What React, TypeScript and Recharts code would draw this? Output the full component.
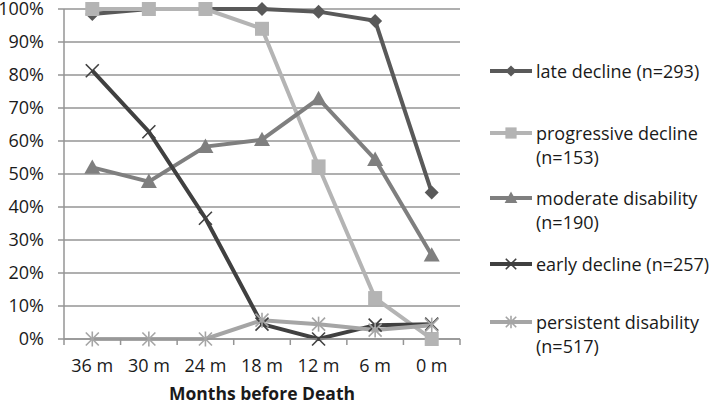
import { LineChart, Line, XAxis, YAxis, CartesianGrid, Legend } from 'recharts'

const months = ['36 m', '30 m', '24 m', '18 m', '12 m', '6 m', '0 m']
const lateDecline = [98.5, 100, 100, 100, 99.2, 96.4, 44.4]
const progressiveDecline = [100, 100, 100, 94, 52.3, 12.4, 0]
const moderateDisability = [52, 47.7, 58.3, 60.4, 72.8, 54.4, 25.4]
const earlyDecline = [81.3, 62.8, 36.6, 4.5, 0, 4.2, 4.5]
const persistentDisability = [0, 0, 0, 5.7, 4.5, 2.7, 4.2]
const percentTicks = [0, 10, 20, 30, 40, 50, 60, 70, 80, 90, 100]

const data = months.map((m, i) => ({
  month: m,
  late: lateDecline[i],
  progressive: progressiveDecline[i],
  moderate: moderateDisability[i],
  early: earlyDecline[i],
  persistent: persistentDisability[i]
}))

type Marker = 'diamond' | 'square' | 'triangle' | 'x' | 'star'

const series: { key: string; name: string; color: string; marker: Marker }[] = [
  { key: 'late', name: 'late decline (n=293)', color: '#595959', marker: 'diamond' },
  { key: 'progressive', name: 'progressive decline\n(n=153)', color: '#b4b4b4', marker: 'square' },
  { key: 'moderate', name: 'moderate disability\n(n=190)', color: '#7f7f7f', marker: 'triangle' },
  { key: 'early', name: 'early decline (n=257)', color: '#404040', marker: 'x' },
  { key: 'persistent', name: 'persistent disability\n(n=517)', color: '#a5a5a5', marker: 'star' }
]

const legendTops = [71, 133, 198, 264, 322]

const W = 713
const H = 404
const left = 64
const right = 460
const band = (right - left) / months.length
const font = '"Open Sans", Lato, sans-serif'
const gridColor = '#959595'

function MarkerShape({ type, cx, cy, color, s = 1 }: { type: Marker; cx: number; cy: number; color: string; s?: number }) {
  if (cx == null || cy == null) return null
  if (type === 'diamond') {
    const r = 7 * s
    return <polygon points={`${cx},${cy - r} ${cx + r},${cy} ${cx},${cy + r} ${cx - r},${cy}`} fill={color} />
  }
  if (type === 'square') {
    const r = 7 * s
    return <rect x={cx - r} y={cy - r} width={r * 2} height={r * 2} fill={color} />
  }
  if (type === 'triangle') {
    const r = 8 * s
    return <polygon points={`${cx},${cy - r} ${cx + r},${cy + r * 0.8} ${cx - r},${cy + r * 0.8}`} fill={color} />
  }
  const r = 6.5 * s
  return (
    <g stroke={color} strokeWidth={1.6}>
      <line x1={cx - r} y1={cy - r} x2={cx + r} y2={cy + r} />
      <line x1={cx - r} y1={cy + r} x2={cx + r} y2={cy - r} />
      {type === 'star' && <line x1={cx} y1={cy - r - 1} x2={cx} y2={cy + r + 1} />}
    </g>
  )
}

function XTick(props: any) {
  const { x, y, payload, index } = props
  return (
    <g>
      <line x1={x - band / 2} y1={y} x2={x - band / 2} y2={y + 6} stroke={gridColor} strokeWidth={1.5} />
      {index === months.length - 1 && (
        <line x1={x + band / 2} y1={y} x2={x + band / 2} y2={y + 6} stroke={gridColor} strokeWidth={1.5} />
      )}
      <text x={x} y={y + 26} textAnchor="middle" dominantBaseline="central" fill="#1a1a1a" fontSize={18} fontFamily={font}>
        {payload.value}
      </text>
    </g>
  )
}

function ChartLegend() {
  return (
    <div style={{ position: 'relative', width: 225, height: H, fontFamily: font, fontSize: 18, color: '#1a1a1a' }}>
      {series.map((s, i) => (
        <div key={s.key} style={{ position: 'absolute', left: 0, top: legendTops[i] - 12, display: 'flex', alignItems: 'flex-start' }}>
          <svg width={48} height={24} style={{ flex: 'none' }}>
            <line x1={2} y1={12} x2={44} y2={12} stroke={s.color} strokeWidth={4} />
            <MarkerShape type={s.marker} cx={23} cy={12} color={s.color} s={0.8} />
          </svg>
          <div style={{ lineHeight: '24px', whiteSpace: 'pre-line' }}>{s.name}</div>
        </div>
      ))}
    </div>
  )
}

export default function App() {
  return (
    <div style={{ position: 'absolute', left: 0, top: 0, width: W, height: H, background: '#fff' }}>
      <LineChart width={W} height={H} data={data} margin={{ top: 9, right: W - right, bottom: 0, left: 0 }}>
        <CartesianGrid vertical={false} stroke={gridColor} strokeWidth={1.5} />
        <XAxis
          dataKey="month"
          height={65}
          stroke={gridColor}
          strokeWidth={1.5}
          tickLine={false}
          tickSize={0}
          tickMargin={0}
          tick={<XTick />}
          interval={0}
          padding={{ left: band / 2, right: band / 2 }}
          label={{ value: 'Months before Death', position: 'insideBottom', offset: 4, fontWeight: 700, fontSize: 17.5, fill: '#1a1a1a', fontFamily: font }}
        />
        <YAxis
          width={left}
          domain={[0, 100]}
          ticks={percentTicks}
          tickFormatter={(v: number) => `${v}%`}
          stroke={gridColor}
          strokeWidth={1.5}
          tickSize={6}
          tickMargin={14}
          tick={{ fill: '#1a1a1a', fontSize: 18, fontFamily: font }}
          interval={0}
        />
        <Legend
          layout="vertical"
          align="center"
          verticalAlign="middle"
          wrapperStyle={{ left: 488, top: 0, width: 225, height: H }}
          content={() => <ChartLegend />}
        />
        {series.map(s => (
          <Line
            key={s.key}
            dataKey={s.key}
            name={s.name}
            stroke={s.color}
            strokeWidth={4}
            isAnimationActive={false}
            dot={(p: any) => <MarkerShape key={`${s.key}-${p.index}`} type={s.marker} cx={p.cx} cy={p.cy} color={s.color} />}
            activeDot={false}
          />
        ))}
      </LineChart>
    </div>
  )
}
